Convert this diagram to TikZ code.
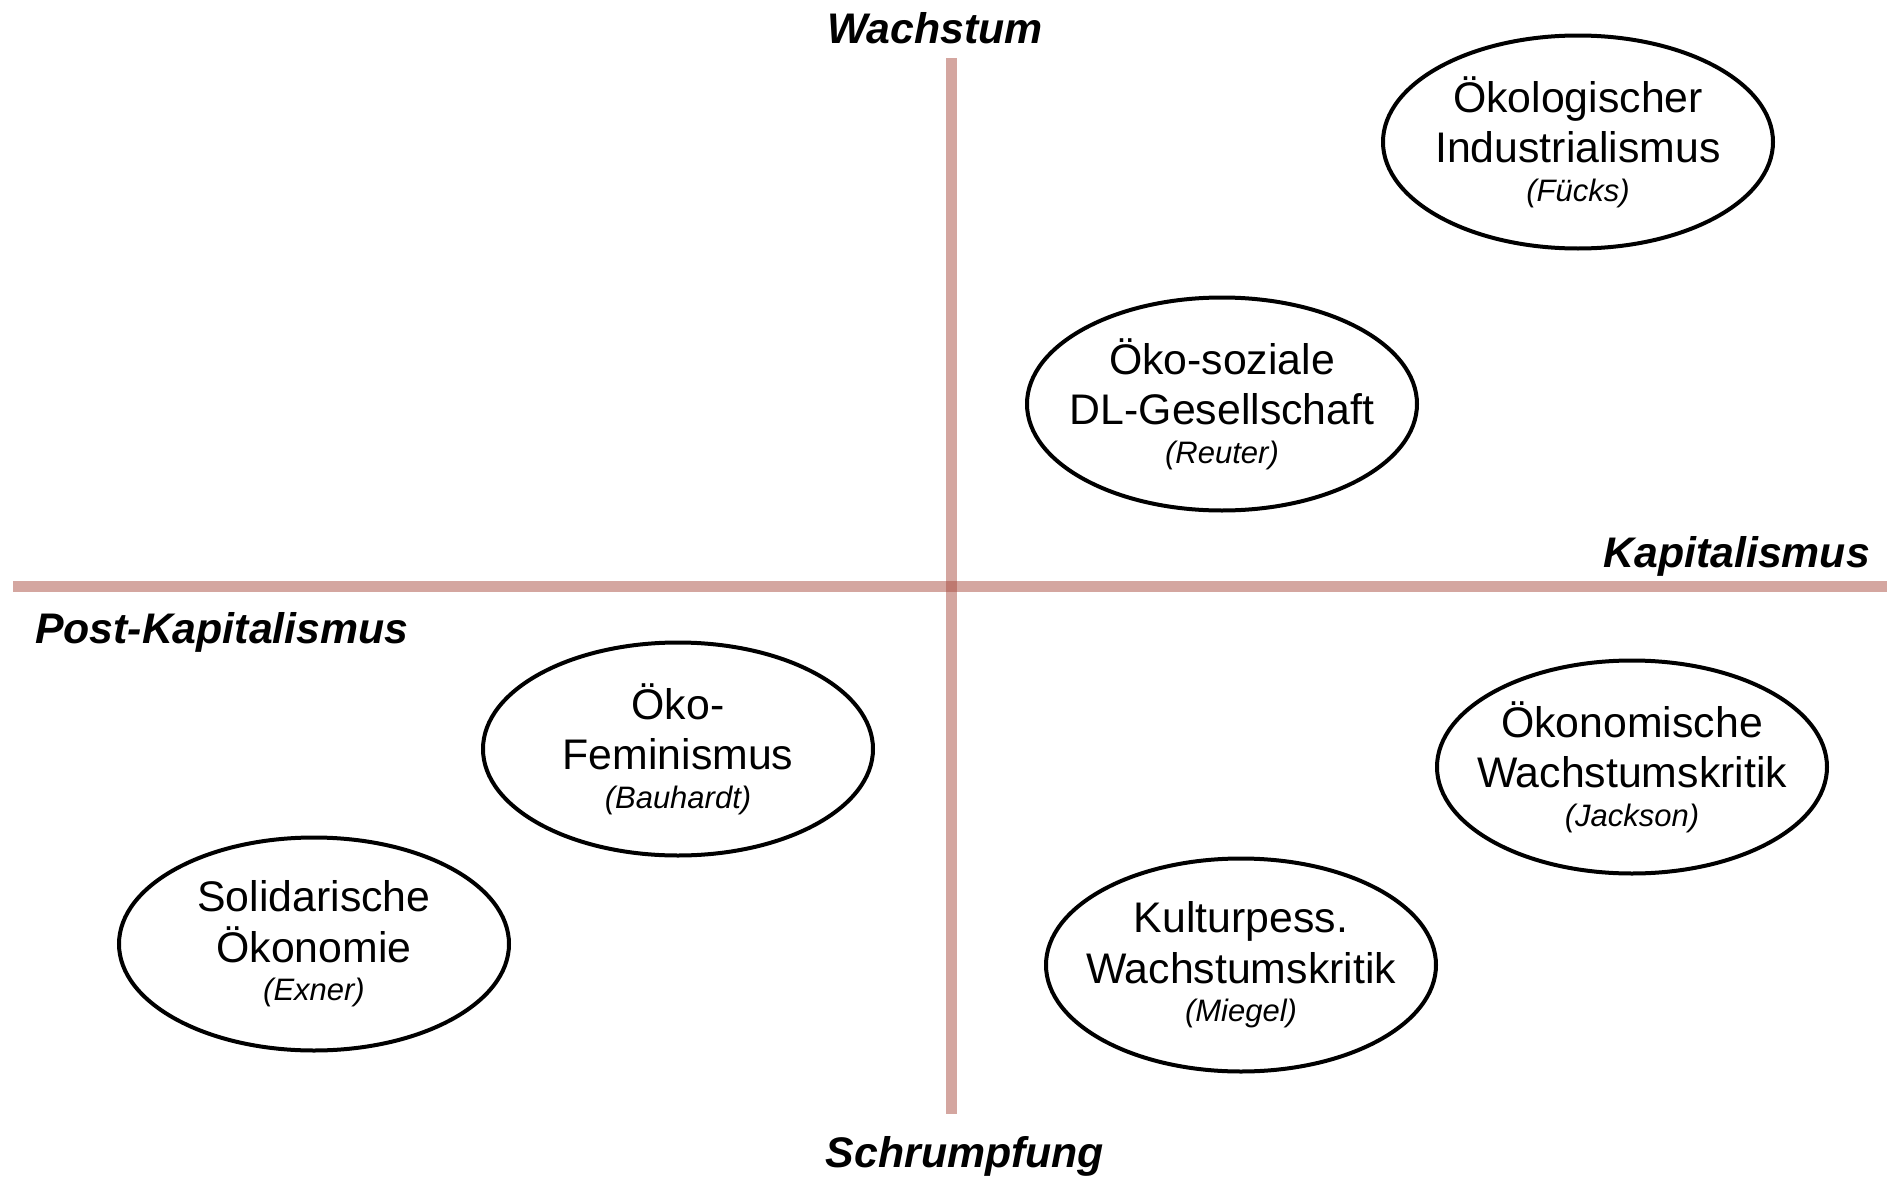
\documentclass[tikz,border=0pt]{standalone}
\usepackage{fontspec}
\setmainfont{Liberation Sans}
\usetikzlibrary{shapes.geometric}
\definecolor{axisred}{RGB}{169,77,65}
\tikzset{
  school/.style={ellipse, draw, line width=2pt, minimum width=195pt, minimum height=106.5pt,
    inner sep=-15pt, align=center, font=\fontsize{21.4}{25.3}\selectfont},
  axislabel/.style={font=\fontsize{21.4}{26}\selectfont\bfseries\itshape},
  axisline/.style={line width=5.5pt, axisred, opacity=0.5}
}
\newcommand{\who}[1]{\\[-6pt]{\fontsize{15.5}{18}\selectfont\itshape (#1)}}
\begin{document}
\begin{tikzpicture}[x=0.5pt, y=-0.5pt]
    \useasboundingbox (0,0) rectangle (1892,1178);

    % Axes
    \coordinate (top) at (951,58);
    \coordinate (bottom) at (951,1114);
    \coordinate (left) at (13,586);
    \coordinate (right) at (1887,586);
    \draw[axisline] (top) -- (bottom);
    \draw[axisline] (left) -- (right);

    % Axis labels
    \node[axislabel] (wachstum) at (935,28) {Wachstum};
    \node[axislabel] (schrumpfung) at (965,1156) {Schrumpfung};
    \node[axislabel, anchor=east] (kap) at (1877,556) {Kapitalismus};
    \node[axislabel, anchor=west] (postkap) at (28,632) {Post-Kapitalismus};

    % Positions
    \node[school] (industrie) at (1578,142) {Ökologischer\\Industrialismus\who{Fücks}};
    \node[school] (oekosozial) at (1222,404) {Öko-soziale\\DL-Gesellschaft\who{Reuter}};
    \node[school] (feminismus) at (678,749) {Öko-\\Feminismus\who{Bauhardt}};
    \node[school] (solidarisch) at (314,944) {Solidarische\\Ökonomie\who{Exner}};
    \node[school] (oekonomisch) at (1632,767) {Ökonomische\\Wachstumskritik\who{Jackson}};
    \node[school] (kulturpess) at (1241,965) {Kulturpess.\\Wachstumskritik\who{Miegel}};
\end{tikzpicture}
\end{document}
